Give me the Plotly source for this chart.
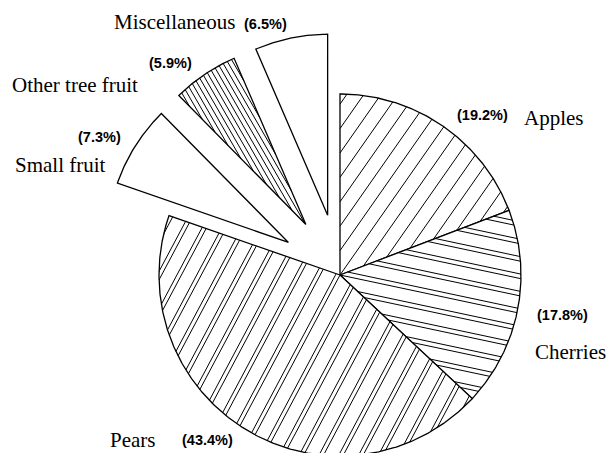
import numpy as np
import plotly.graph_objects as go

# ---------------- data ----------------
names = ["Apples", "Cherries", "Pears", "Small fruit", "Other tree fruit", "Miscellaneous"]
shares = [19.2, 17.8, 43.4, 7.3, 5.9, 6.5]

# ---------------- style / layout ----------------
W, H = 611, 453
CX, CY, R = 340.0, 275.0, 181.0          # pie centre and radius in pixels
pulls = [0, 0, 0, 0.337, 0.337, 0.337]    # fraction of radius
hatches = [
    dict(angle=55, period=14.0, offsets=[0.0]),
    dict(angle=-12, period=17.0, offsets=[0.0, 4.5]),
    dict(angle=62, period=17.5, offsets=[0.0, 4.0]),
    None,
    dict(angle=-60, period=4.6, offsets=[0.0]),
    None,
]
SERIF = "Liberation Serif"
SANS = "Liberation Sans"
SERIF_SIZE = 21
SANS_SIZE = 14.5
# label placement (left x, middle y) in pixels: name label, percent label
name_pos = [(522, 118), (533, 352), (108, 440), (13, 165), (10, 85), (112, 22)]
pct_pos = [(455, 115), (535, 315), (180, 440), (76, 137), (147, 63), (242, 24)]

# ---------------- geometry helpers ----------------
total = sum(shares)
bounds = np.concatenate([[0.0], np.cumsum(shares)]) / total
ang = np.deg2rad(90.0 - 360.0 * bounds)   # clockwise from 12 o'clock


def sector(i):
    a0, a1 = ang[i], ang[i + 1]
    mid = 0.5 * (a0 + a1)
    vx, vy = pulls[i] * np.cos(mid), pulls[i] * np.sin(mid)
    n = max(8, int(abs(a0 - a1) * 120))
    t = np.linspace(a0, a1, n)
    xs = np.concatenate([[vx], vx + np.cos(t), [vx]])
    ys = np.concatenate([[vy], vy + np.sin(t), [vy]])
    return np.column_stack([xs, ys])


def hatch_lines(poly, spec):
    th = np.deg2rad(spec["angle"])
    d = np.array([np.cos(th), np.sin(th)])
    nrm = np.array([-np.sin(th), np.cos(th)])
    period = spec["period"] / R
    proj = poly @ nrm
    smin, smax = proj.min(), proj.max()
    xs, ys = [], []
    k0 = int(np.floor(smin / period)) - 1
    k1 = int(np.ceil(smax / period)) + 1
    for k in range(k0, k1 + 1):
        for off in spec["offsets"]:
            s = k * period + off / R
            if s <= smin or s >= smax:
                continue
            pts = []
            for j in range(len(poly) - 1):
                a, b = poly[j], poly[j + 1]
                fa, fb = a @ nrm - s, b @ nrm - s
                if (fa < 0) != (fb < 0):
                    t = fa / (fa - fb)
                    pts.append(a + t * (b - a))
            if len(pts) >= 2:
                pts.sort(key=lambda p: p @ d)
                p0, p1 = pts[0], pts[-1]
                xs += [p0[0], p1[0], None]
                ys += [p0[1], p1[1], None]
    return xs, ys


fig = go.Figure()
for i in range(len(shares)):
    poly = sector(i)
    fig.add_trace(go.Scatter(
        x=poly[:, 0], y=poly[:, 1], mode="lines", fill="toself",
        fillcolor="white", line=dict(color="black", width=1.3),
        hoverinfo="skip", showlegend=False))
    if hatches[i] is not None:
        hx, hy = hatch_lines(poly, hatches[i])
        fig.add_trace(go.Scatter(
            x=hx, y=hy, mode="lines", line=dict(color="black", width=1.0),
            hoverinfo="skip", showlegend=False))

annotations = []
for i, nm in enumerate(names):
    nx, ny = name_pos[i]
    px_, py_ = pct_pos[i]
    annotations.append(dict(
        text=nm, x=nx / W, y=1 - ny / H, xref="paper", yref="paper",
        xanchor="left", yanchor="middle", showarrow=False,
        font=dict(family=SERIF, size=SERIF_SIZE, color="black")))
    annotations.append(dict(
        text="(%.1f%%)" % shares[i], x=px_ / W, y=1 - py_ / H,
        xref="paper", yref="paper", xanchor="left", yanchor="middle",
        showarrow=False,
        font=dict(family=SANS, size=SANS_SIZE, color="black", weight="bold")))

fig.update_layout(
    width=W, height=H,
    margin=dict(l=0, r=0, t=0, b=0),
    paper_bgcolor="white", plot_bgcolor="white",
    xaxis=dict(range=[-CX / R, (W - CX) / R], visible=False, fixedrange=True),
    yaxis=dict(range=[-(H - CY) / R, CY / R], visible=False, fixedrange=True),
    annotations=annotations,
    showlegend=False,
)

fig.write_html("out.html", config={"displayModeBar": False},
               post_script="document.body.style.margin='0';document.body.style.overflow='hidden';")
